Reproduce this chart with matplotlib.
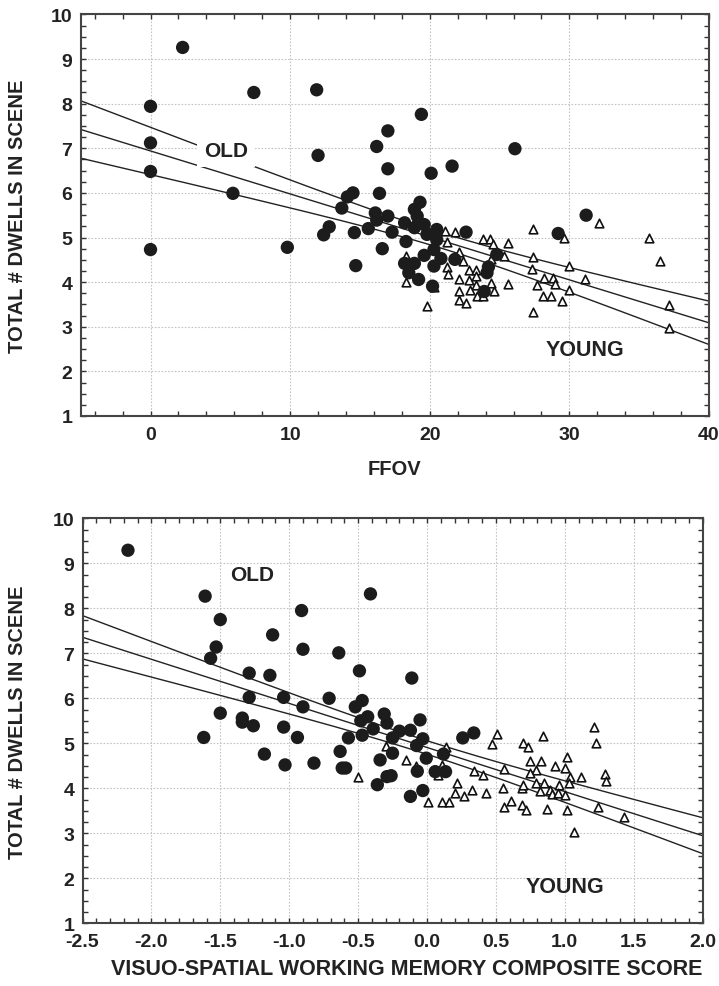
import numpy as np
import matplotlib
matplotlib.use('Agg')
import matplotlib.pyplot as plt
from matplotlib.ticker import MultipleLocator, FormatStrFormatter

FONT = ['Liberation Sans', 'DejaVu Sans']

# top panel: useful field of view
ffov_old = [2.3, 7.4, 11.9, 0, 0, 0, 0, 5.9, 12.0, 17.0, 16.2, 17.0, 16.4, 14.5, 14.1,
            13.7, 9.8, 12.4, 12.8, 14.6, 14.7, 15.6, 16.1, 16.2, 17.0, 17.3, 18.2, 18.3,
            16.6, 19.3, 18.9, 19.1, 19.2, 18.9, 19.6, 19.8, 20.5, 20.5, 20.3, 19.6, 20.8,
            18.2, 18.9, 18.5, 19.2, 20.3, 20.2, 22.6, 21.8, 24.8, 24.2, 24.1, 23.9, 29.2,
            31.2, 20.1, 21.6, 19.4, 26.1]
dwell_ffov_old = [9.26, 8.25, 8.31, 7.94, 7.12, 6.48, 4.73, 5.99, 6.84, 7.39, 7.04, 6.54,
                  5.99, 6.00, 5.91, 5.66, 4.78, 5.06, 5.24, 5.11, 4.37, 5.20, 5.55, 5.39,
                  5.48, 5.12, 5.33, 4.91, 4.75, 5.79, 5.63, 5.48, 5.33, 5.22, 5.29, 5.07,
                  5.18, 4.95, 4.73, 4.60, 4.53, 4.42, 4.42, 4.21, 4.06, 4.36, 3.91, 5.12,
                  4.51, 4.62, 4.34, 4.21, 3.79, 5.09, 5.50, 6.44, 6.60, 7.76, 6.99]
ffov_young = [21.1, 21.8, 21.2, 23.8, 24.3, 24.5, 25.6, 27.4, 29.6, 32.1, 35.7, 36.5, 37.1,
              37.1, 30.0, 31.1, 30.0, 29.5, 27.4, 27.4, 27.3, 28.2, 28.8, 29.0, 27.7, 28.1,
              28.7, 25.6, 25.3, 22.1, 22.4, 22.8, 23.3, 23.3, 24.1, 24.4, 21.2, 21.3, 22.1,
              22.8, 23.3, 24.4, 22.1, 22.9, 24.6, 22.1, 22.6, 23.4, 23.8, 19.8, 18.3, 18.3,
              20.3]
dwell_ffov_young = [5.14, 5.12, 4.91, 4.96, 4.96, 4.86, 4.88, 5.20, 5.00, 5.33, 5.00, 4.47,
                    3.48, 2.98, 4.36, 4.06, 3.83, 3.57, 3.32, 4.57, 4.30, 4.09, 4.09, 3.95,
                    3.93, 3.68, 3.70, 3.95, 4.58, 4.67, 4.47, 4.28, 4.28, 4.14, 4.39, 4.51,
                    4.34, 4.19, 4.06, 4.05, 3.93, 3.97, 3.81, 3.83, 3.81, 3.61, 3.53, 3.70,
                    3.68, 3.46, 4.58, 4.00, 3.88]

# bottom panel: visuo-spatial working memory composite
vswm_old = [-2.17, -1.61, -0.41, -0.91, -1.50, -1.12, -1.53, -0.90, -0.64, -1.57, -1.29,
            -1.14, -0.49, -1.29, -1.04, -0.71, -0.90, -0.47, -0.52, -1.50, -1.34, -1.34,
            -1.26, -1.04, -1.62, -0.94, -0.43, -0.48, -0.31, -0.29, -0.39, -0.47, -0.20,
            -0.12, -0.25, -0.57, -0.63, -0.11, -0.05, -0.03, -0.075, 0.26, 0.34, -0.25,
            -0.005, 0.12, -0.34, -0.615, -0.59, -0.07, 0.06, 0.135, -0.29, -0.26, -0.36,
            -0.03, -0.12, -1.18, -1.03, -0.82]
dwell_vswm_old = [9.29, 8.27, 8.32, 7.95, 7.75, 7.41, 7.14, 7.09, 7.01, 6.89, 6.56, 6.51,
                  6.61, 6.02, 6.02, 6.00, 5.81, 5.95, 5.81, 5.67, 5.56, 5.47, 5.39, 5.36,
                  5.13, 5.13, 5.59, 5.50, 5.65, 5.45, 5.32, 5.18, 5.27, 5.29, 5.12, 5.12,
                  4.82, 6.45, 5.52, 5.10, 4.95, 5.12, 5.23, 4.78, 4.67, 4.76, 4.63, 4.45,
                  4.45, 4.38, 4.37, 4.37, 4.26, 4.28, 4.08, 3.95, 3.82, 4.76, 4.52, 4.56]
vswm_young = [0.51, 0.47, 0.70, 0.73, 0.84, 1.21, 1.23, 1.02, 0.75, 0.83, 0.93, 1.00, 0.79,
              0.75, 1.04, 1.12, 1.29, 1.30, 0.56, 0.34, 0.41, 0.14, 0.11, 0.08, -0.30, -0.15,
              -0.08, -0.50, 0.22, 0.20, 0.27, 0.33, 0.43, 0.01, 0.11, 0.16, 0.55, 0.69, 0.70,
              0.79, 0.85, 0.82, 0.89, 0.96, 1.03, 0.91, 0.95, 1.00, 0.61, 0.56, 0.69, 0.72,
              0.87, 1.02, 1.24, 1.43, 1.07]
dwell_vswm_young = [5.21, 4.98, 5.00, 4.91, 5.16, 5.37, 5.00, 4.69, 4.60, 4.60, 4.50, 4.45,
                    4.41, 4.34, 4.26, 4.26, 4.32, 4.17, 4.43, 4.39, 4.30, 4.91, 4.52, 4.30,
                    4.93, 4.63, 4.50, 4.26, 4.12, 3.90, 3.82, 3.97, 3.90, 3.70, 3.70, 3.70,
                    4.00, 4.00, 4.08, 4.11, 4.12, 3.95, 3.97, 4.08, 4.11, 3.87, 3.89, 3.85,
                    3.71, 3.59, 3.64, 3.52, 3.54, 3.52, 3.59, 3.36, 3.04]

y_label = 'TOTAL # DWELLS IN SCENE'


def add_fit(ax, x, y, xlim):
    # OLS line and 95% confidence band of the mean, both groups pooled
    x = np.asarray(x, float)
    y = np.asarray(y, float)
    b, a = np.polyfit(x, y, 1)
    n = len(x)
    s = np.sqrt(np.sum((y - (a + b * x)) ** 2) / (n - 2))
    sxx = np.sum((x - x.mean()) ** 2)
    xs = np.linspace(xlim[0], xlim[1], 300)
    mid = a + b * xs
    half = 1.98 * s * np.sqrt(1.0 / n + (xs - x.mean()) ** 2 / sxx)
    for line in (mid, mid - half, mid + half):
        ax.plot(xs, line, color='#222222', lw=1.0, zorder=2)


def style_axes(ax, xlim, xmajor, xminor, fmt):
    ax.set_xlim(*xlim)
    ax.set_ylim(1, 10)
    ax.xaxis.set_major_locator(MultipleLocator(xmajor))
    ax.xaxis.set_minor_locator(MultipleLocator(xminor))
    ax.xaxis.set_major_formatter(FormatStrFormatter(fmt))
    ax.yaxis.set_major_locator(MultipleLocator(1))
    ax.yaxis.set_minor_locator(MultipleLocator(0.25))
    ax.grid(True, which='major', color='#c4c4c4', linestyle=(0, (1.5, 1.5)), lw=0.8)
    ax.set_axisbelow(True)
    ax.tick_params(which='both', direction='in', top=True, right=True,
                   length=3.5, width=1.0, color='#333333')
    ax.tick_params(axis='x', which='major', labelsize=14, pad=7)
    ax.tick_params(axis='y', which='major', labelsize=14, pad=6)
    for lab in ax.get_xticklabels() + ax.get_yticklabels():
        lab.set_family(FONT)
        lab.set_fontweight('bold')
        lab.set_color('#222222')
    for sp in ax.spines.values():
        sp.set_linewidth(1.5)
        sp.set_color('#444444')
    ax.set_ylabel(y_label, family=FONT, fontweight='bold', fontsize=14.5, color='#222222')


def scatter_groups(ax, xo, yo, xy, yy):
    ax.scatter(xy, yy, marker='^', s=38, facecolors='white', edgecolors='#111111',
               linewidths=1.2, zorder=3)
    ax.scatter(xo, yo, marker='o', s=92, color='#1c1c1c', edgecolors='none', zorder=4)


fig = plt.figure(figsize=(7.19, 9.87), dpi=100)

ax1 = fig.add_axes([80.7 / 719, 1 - 417 / 987, 628.3 / 719, 401.6 / 987])
style_axes(ax1, (-5, 40), 10, 2, '%d')
add_fit(ax1, ffov_old + ffov_young, dwell_ffov_old + dwell_ffov_young, (-5, 40))
scatter_groups(ax1, ffov_old, dwell_ffov_old, ffov_young, dwell_ffov_young)
ax1.text(5.4, 6.94, 'OLD', family=FONT, fontweight='bold', fontsize=15, color='#222222',
         ha='center', va='center', zorder=3.5,
         bbox=dict(facecolor='white', edgecolor='none', pad=5))
ax1.text(31.1, 2.5, 'YOUNG', family=FONT, fontweight='bold', fontsize=15.5, color='#222222',
         ha='center', va='center', zorder=3.5)
ax1.set_xlabel('FFOV', family=FONT, fontweight='bold', fontsize=14.5, color='#222222',
               labelpad=12)
ax1.yaxis.set_label_coords(-0.0855, 0.5)

ax2 = fig.add_axes([82.5 / 719, 1 - 924.3 / 987, 620 / 719, 405 / 987])
style_axes(ax2, (-2.5, 2.0), 0.5, 0.1, '%.1f')
add_fit(ax2, vswm_old + vswm_young, dwell_vswm_old + dwell_vswm_young, (-2.5, 2.0))
scatter_groups(ax2, vswm_old, dwell_vswm_old, vswm_young, dwell_vswm_young)
ax2.text(-1.27, 8.76, 'OLD', family=FONT, fontweight='bold', fontsize=15, color='#222222',
         ha='center', va='center', zorder=3.5)
ax2.text(1.0, 1.81, 'YOUNG', family=FONT, fontweight='bold', fontsize=15.5, color='#222222',
         ha='center', va='center', zorder=3.5)
ax2.set_xlabel('VISUO-SPATIAL WORKING MEMORY COMPOSITE SCORE', family=FONT,
               fontweight='bold', fontsize=15.5, color='#222222', labelpad=7)
ax2.xaxis.set_label_coords(0.523, -0.085)
ax2.yaxis.set_label_coords(-0.0895, 0.5)

fig.savefig('out.png', dpi=100)
